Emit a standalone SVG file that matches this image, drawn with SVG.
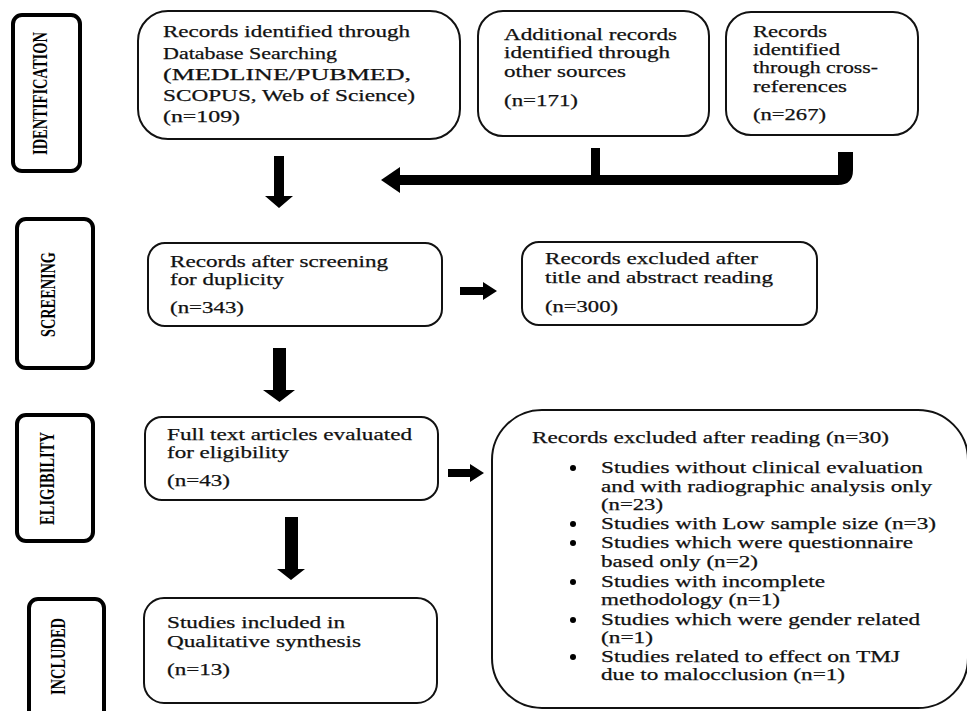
<svg xmlns="http://www.w3.org/2000/svg" width="967" height="711" viewBox="0 0 967 711">
<style>
.bx{fill:#fff;stroke:#111;stroke-width:2}
.lb{fill:#fff;stroke:#000;stroke-width:4}
.t{font-family:"Liberation Serif","Times New Roman",serif;font-size:17px;fill:#111;stroke:#111;stroke-width:0.25}
.s{font-size:16.5px}
.L{font-family:"Liberation Serif","Times New Roman",serif;font-size:21px;font-weight:bold;fill:#000}
.ar{fill:#000}
</style>
<rect width="967" height="711" fill="#fff"/>

<g id="lab-identification">
<rect class="lb" x="13" y="15" width="67" height="156" rx="9"/>
<text class="L" transform="translate(47,93.5) rotate(-90)" text-anchor="middle" textLength="123" lengthAdjust="spacingAndGlyphs">IDENTIFICATION</text>
</g>
<g id="lab-screening">
<rect class="lb" x="17" y="219" width="76" height="149" rx="9"/>
<text class="L" transform="translate(55,294.5) rotate(-90)" text-anchor="middle" textLength="85" lengthAdjust="spacingAndGlyphs">SCREENING</text>
</g>
<g id="lab-eligibility">
<rect class="lb" x="17" y="415" width="76" height="126" rx="9"/>
<text class="L" transform="translate(54,478.5) rotate(-90)" text-anchor="middle" textLength="93" lengthAdjust="spacingAndGlyphs">ELIGIBILITY</text>
</g>
<g id="lab-included">
<rect class="lb" x="29" y="599" width="75" height="125" rx="9"/>
<text class="L" transform="translate(65,656.5) rotate(-90)" text-anchor="middle" textLength="77" lengthAdjust="spacingAndGlyphs">INCLUDED</text>
</g>

<g id="n-database">
<rect class="bx" x="138" y="11" width="322" height="128" rx="30"/>
<text class="t" x="163" y="37" textLength="247" lengthAdjust="spacingAndGlyphs">Records identified through</text>
<text class="t" x="163" y="59" textLength="174" lengthAdjust="spacingAndGlyphs">Database Searching</text>
<text class="t" x="163" y="80" textLength="248" lengthAdjust="spacingAndGlyphs">(MEDLINE/PUBMED,</text>
<text class="t" x="163" y="101" textLength="252" lengthAdjust="spacingAndGlyphs">SCOPUS, Web of Science)</text>
<text class="t" x="163" y="122" textLength="77" lengthAdjust="spacingAndGlyphs">(n=109)</text>
</g>
<g id="n-additional">
<rect class="bx" x="478" y="11" width="231" height="125" rx="25"/>
<text class="t" x="504" y="40" textLength="173" lengthAdjust="spacingAndGlyphs">Additional records</text>
<text class="t" x="504" y="58" textLength="166" lengthAdjust="spacingAndGlyphs">identified through</text>
<text class="t" x="504" y="77" textLength="122" lengthAdjust="spacingAndGlyphs">other sources</text>
<text class="t" x="504" y="106" textLength="74" lengthAdjust="spacingAndGlyphs">(n=171)</text>
</g>
<g id="n-crossref">
<rect class="bx" x="726" y="12" width="192" height="123" rx="25"/>
<text class="t" x="753" y="37" textLength="74" lengthAdjust="spacingAndGlyphs">Records</text>
<text class="t" x="753" y="55" textLength="87" lengthAdjust="spacingAndGlyphs">identified</text>
<text class="t" x="753" y="73" textLength="125" lengthAdjust="spacingAndGlyphs">through cross-</text>
<text class="t" x="753" y="92" textLength="94" lengthAdjust="spacingAndGlyphs">references</text>
<text class="t" x="753" y="120" textLength="73" lengthAdjust="spacingAndGlyphs">(n=267)</text>
</g>
<g id="n-screened">
<rect class="bx" x="148" y="243" width="294" height="83" rx="17"/>
<text class="t" x="170" y="267" textLength="218" lengthAdjust="spacingAndGlyphs">Records after screening</text>
<text class="t" x="170" y="285" textLength="114" lengthAdjust="spacingAndGlyphs">for duplicity</text>
<text class="t" x="170" y="313" textLength="74" lengthAdjust="spacingAndGlyphs">(n=343)</text>
</g>
<g id="n-excluded-title">
<rect class="bx" x="522" y="242" width="295" height="83" rx="17"/>
<text class="t" x="545" y="264" textLength="213" lengthAdjust="spacingAndGlyphs">Records excluded after</text>
<text class="t" x="545" y="283" textLength="228" lengthAdjust="spacingAndGlyphs">title and abstract reading</text>
<text class="t" x="545" y="312" textLength="73" lengthAdjust="spacingAndGlyphs">(n=300)</text>
</g>
<g id="n-fulltext">
<rect class="bx" x="145" y="417" width="293" height="83" rx="17"/>
<text class="t" x="167" y="440" textLength="245" lengthAdjust="spacingAndGlyphs">Full text articles evaluated</text>
<text class="t" x="167" y="458" textLength="122" lengthAdjust="spacingAndGlyphs">for eligibility</text>
<text class="t" x="167" y="486" textLength="63" lengthAdjust="spacingAndGlyphs">(n=43)</text>
</g>
<g id="n-included">
<rect class="bx" x="144" y="598" width="293" height="105" rx="20"/>
<text class="t" x="167" y="628" textLength="178" lengthAdjust="spacingAndGlyphs">Studies included in</text>
<text class="t" x="167" y="647" textLength="194" lengthAdjust="spacingAndGlyphs">Qualitative synthesis</text>
<text class="t" x="167" y="675" textLength="63" lengthAdjust="spacingAndGlyphs">(n=13)</text>
</g>
<g id="n-excluded-reading">
<rect class="bx" x="492" y="410" width="476" height="298" rx="50"/>
<text class="t" x="532" y="443" textLength="357" lengthAdjust="spacingAndGlyphs">Records excluded after reading (n=30)</text>
<g class="ar">
<circle cx="573" cy="468" r="3"/>
<circle cx="573" cy="524" r="3"/>
<circle cx="573" cy="543" r="3"/>
<circle cx="573" cy="582" r="3"/>
<circle cx="573" cy="620" r="3"/>
<circle cx="573" cy="657" r="3"/>
</g>
<text class="t s" x="601" y="473" textLength="322" lengthAdjust="spacingAndGlyphs">Studies without clinical evaluation</text>
<text class="t s" x="601" y="492" textLength="331" lengthAdjust="spacingAndGlyphs">and with radiographic analysis only</text>
<text class="t s" x="601" y="510" textLength="62" lengthAdjust="spacingAndGlyphs">(n=23)</text>
<text class="t s" x="601" y="529" textLength="335" lengthAdjust="spacingAndGlyphs">Studies with Low sample size (n=3)</text>
<text class="t s" x="601" y="548" textLength="312" lengthAdjust="spacingAndGlyphs">Studies which were questionnaire</text>
<text class="t s" x="601" y="567" textLength="157" lengthAdjust="spacingAndGlyphs">based only (n=2)</text>
<text class="t s" x="601" y="587" textLength="224" lengthAdjust="spacingAndGlyphs">Studies with incomplete</text>
<text class="t s" x="601" y="605" textLength="179" lengthAdjust="spacingAndGlyphs">methodology (n=1)</text>
<text class="t s" x="601" y="625" textLength="319" lengthAdjust="spacingAndGlyphs">Studies which were gender related</text>
<text class="t s" x="601" y="643" textLength="52" lengthAdjust="spacingAndGlyphs">(n=1)</text>
<text class="t s" x="601" y="662" textLength="299" lengthAdjust="spacingAndGlyphs">Studies related to effect on TMJ</text>
<text class="t s" x="601" y="680" textLength="244" lengthAdjust="spacingAndGlyphs">due to malocclusion (n=1)</text>
</g>

<g id="connectors" class="ar">
<path d="M399 175 H838 V152 H853 V170 Q853 185 838 185 H399 Z"/>
<polygon points="381,180 400,167 400,193"/>
<rect x="591" y="148" width="9" height="30"/>
<polygon points="274,156 284,156 284,196 293,196 279,208 265,196 274,196"/>
<polygon points="273,348 286,348 286,390 295,390 279.5,402 263,390 273,390"/>
<polygon points="285,517 298,517 298,569 305,569 291,580 277,569 285,569"/>
<polygon points="460,287 483,287 483,282 497,291 483,300 483,295 460,295"/>
<polygon points="448,469 470,469 470,464 484,473 470,482 470,477 448,477"/>
</g>
</svg>
